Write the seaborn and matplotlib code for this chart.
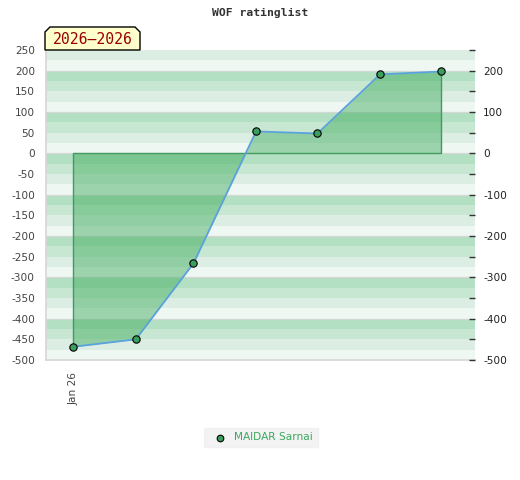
import numpy as np
import pandas as pd
import matplotlib
matplotlib.use("Agg")
import matplotlib.pyplot as plt
import seaborn as sns
from matplotlib.patches import Polygon
from matplotlib.ticker import MultipleLocator

# Data (days after 1 Jan 2026, rating change)
days = [0.0, 5.1, 9.8, 14.9, 19.9, 25.0, 30.0]
ratings = [-468, -450, -266, 53, 48, 191, 198]
player = "MAIDAR Sarnai"
title = "WOF ratinglist"
period = "2026\u20132026"
xtick_pos = [0.0]
xtick_labels = ["Jan 26"]

df = pd.DataFrame({"day": days, "rating": ratings})

sns.set_style("white")
plt.rcParams["font.family"] = ["DejaVu Sans"]
plt.rcParams["axes.unicode_minus"] = False

fig = plt.figure(figsize=(5.2, 4.8), dpi=100)
ax = fig.add_axes([46 / 520, 1 - 360 / 480, 429 / 520, 310 / 480])

ymin, ymax = -500, 250
band_colors = ["#eff7f2", "#dcede3", "#c8e7d3", "#b3dfc3"]

# striped background, 4 bands per 100 points
for lo in range(ymin, ymax, 25):
    k = (lo % 100) // 25
    ax.axhspan(lo, lo + 25, color=band_colors[k], lw=0, zorder=0)
for y in range(-400, ymax, 100):
    ax.axhline(y, color="#d4d8d5", lw=0.9, zorder=0.5)

# filled area between the rating curve and zero
ax.fill_between(df["day"], df["rating"], 0, color="#3caa5a", alpha=0.46,
                lw=0, zorder=1)
ax.plot([days[0], days[0], days[-1], days[-1]],
        [ratings[0], 0, 0, ratings[-1]],
        color="#3f9c5e", lw=1.0, zorder=2)

sns.lineplot(data=df, x="day", y="rating", ax=ax, color="#5aa2dc",
             lw=1.3, zorder=3, legend=False)
sns.scatterplot(data=df, x="day", y="rating", ax=ax, color="#3a9e5e",
                edgecolor="black", linewidth=0.8, s=28, zorder=4,
                label=player)

ax.set_xlim(-2.22, 32.74)
ax.set_ylim(ymin, ymax)
ax.set_xlabel("")
ax.set_ylabel("")

ax.yaxis.set_major_locator(MultipleLocator(50))
ax.tick_params(axis="y", length=0, pad=8, labelsize=7.6, labelcolor="#444444")
ax.set_xticks(xtick_pos)
ax.set_xticklabels(xtick_labels, rotation=90, va="top")
ax.tick_params(axis="x", length=0, pad=9, labelsize=7.6, labelcolor="#444444")

for side in ["left", "bottom"]:
    ax.spines[side].set_color("#d6d6d6")
    ax.spines[side].set_linewidth(1.2)
ax.spines["top"].set_visible(False)
ax.spines["right"].set_visible(False)

# right axis with the same scale
ax2 = ax.twinx()
ax2.set_ylim(ymin, ymax)
ax2.yaxis.set_major_locator(MultipleLocator(100))
ax2.yaxis.set_minor_locator(MultipleLocator(50))
ax2.tick_params(axis="y", which="both", direction="in", length=4.5,
                width=1.0, color="#333333", pad=6, labelsize=7.6,
                labelcolor="#222222")
for s in ax2.spines.values():
    s.set_visible(False)

ax.get_legend().remove()
handles, labels = ax.get_legend_handles_labels()
leg = fig.legend(handles, labels, loc="center", bbox_to_anchor=(0.502, 0.089),
                 frameon=True, fancybox=False, fontsize=7.6,
                 handletextpad=0.4, borderpad=0.45, markerscale=0.9)
leg.get_frame().set_facecolor("#f0f0f0")
leg.get_frame().set_edgecolor("#f0f0f0")
for t in leg.get_texts():
    t.set_color("#3aa85f")

fig.text(0.5, 1 - 13 / 480, title, ha="center", va="center",
         family="DejaVu Sans Mono", fontweight="bold", fontsize=8.2,
         color="#333333")

# period label box with clipped top corners
x0, x1 = 45 / 520, 140 / 520
y0, y1 = 1 - 50 / 480, 1 - 27 / 480
cx, cy = 5 / 520, 5 / 480
box = Polygon([(x0, y0), (x0, y1 - cy), (x0 + cx, y1), (x1 - cx, y1),
               (x1, y1 - cy), (x1, y0)], closed=True,
              transform=fig.transFigure, facecolor="#ffffcc",
              edgecolor="black", lw=1.0, zorder=5)
fig.patches.append(box)
fig.text((x0 + x1) / 2, 1 - 39.5 / 480, period, ha="center", va="center",
         family="DejaVu Sans Mono", fontsize=10.6, color="#990000", zorder=6)

fig.savefig("out.png", dpi=100)
